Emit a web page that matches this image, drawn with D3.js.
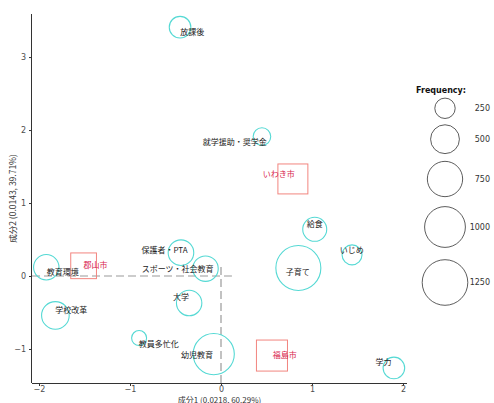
<!DOCTYPE html>
<html>
<head>
<meta charset="utf-8">
<script src="https://cdn.jsdelivr.net/npm/d3@7"></script>
<style>
  html, body { margin: 0; padding: 0; background: #fff; }
  svg { display: block; }
  text { font-family: "Noto Sans CJK JP", "Noto Sans", sans-serif; }
</style>
</head>
<body>
<svg id="chart" width="494" height="403"></svg>
<script>
// Correspondence analysis: topic words (circles) and cities (squares)
const words = ["放課後", "就学援助・奨学金", "教育環境", "保護者・PTA", "スポーツ・社会教育", "大学",
               "学校改革", "教員多忙化", "幼児教育", "給食", "子育て", "いじめ", "学力"];
const wordDim1 = [-0.45, 0.45, -1.92, -0.44, -0.17, -0.35, -1.82, -0.90, -0.08, 1.03, 0.85, 1.44, 1.90];
const wordDim2 = [3.41, 1.91, 0.12, 0.32, 0.10, -0.37, -0.54, -0.85, -1.07, 0.64, 0.11, 0.29, -1.26];
const wordFreq = [280, 186, 388, 394, 388, 388, 458, 135, 1020, 346, 1217, 240, 280];
// repelled label anchors (same dimensions)
const wordLabelDim1 = [-0.315, 0.15, -1.74, -0.62, -0.476, -0.44, -1.645, -0.685, -0.263, 1.03, 0.843, 1.436, 1.787];
const wordLabelDim2 = [3.34, 1.83, 0.05, 0.355, 0.10, -0.29, -0.465, -0.93, -1.08, 0.71, 0.046, 0.355, -1.18];

const cities = ["いわき市", "郡山市", "福島市"];
const cityDim1 = [0.79, -1.51, 0.56];
const cityDim2 = [1.33, 0.14, -1.09];
const cityFreq = [687, 506, 737];
const cityLabelDim1 = [0.635, -1.38, 0.70];
const cityLabelDim2 = [1.40, 0.146, -1.083];

const xTicks = [-2, -1, 0, 1, 2];
const yTicks = [-1, 0, 1, 2, 3];
const legendFreq = [250, 500, 750, 1000, 1250];
const xTitle = "成分1 (0.0218, 60.29%)";
const yTitle = "成分2 (0.0143, 39.71%)";
const legendTitle = "Frequency:";

const svg = d3.select("#chart");
const panel = { left: 32, right: 407, top: 14, bottom: 383 };

const x = d3.scaleLinear().domain([-2.077, 2.044]).range([panel.left, panel.right]);
const y = d3.scaleLinear().domain([-1.466, 3.59]).range([panel.bottom, panel.top]);
const r = d3.scaleSqrt().domain([0, 1250]).range([0, 22.8]);
// open squares share the circle's area
const side = f => 2 * r(f) * 0.8862;

const circleColor = "#55d9d4";
const squareColor = "#f2857f";
const cityTextColor = "#d81e4e";

// origin reference lines
const dash = "8,4";
svg.append("line")
  .attr("x1", x(x.domain()[0])).attr("x2", x(0.12))
  .attr("y1", y(0)).attr("y2", y(0))
  .attr("stroke", "#9a9a9a").attr("stroke-width", 1.2).attr("stroke-dasharray", dash);
svg.append("line")
  .attr("x1", x(0)).attr("x2", x(0))
  .attr("y1", y(y.domain()[0])).attr("y2", y(0.16))
  .attr("stroke", "#9a9a9a").attr("stroke-width", 1.2).attr("stroke-dasharray", dash);

// axes
const xAxis = svg.append("g")
  .attr("transform", `translate(0,${panel.bottom})`)
  .call(d3.axisBottom(x).tickValues(xTicks).tickSize(3).tickPadding(0).tickFormat(d3.format("d")));
const yAxis = svg.append("g")
  .attr("transform", `translate(${panel.left},0)`)
  .call(d3.axisLeft(y).tickValues(yTicks).tickSize(3).tickPadding(3).tickFormat(d3.format("d")));
[xAxis, yAxis].forEach(g => {
  g.select(".domain").attr("stroke", "#333").attr("stroke-width", 1);
  g.selectAll(".tick line").attr("stroke", "#333");
  g.selectAll(".tick text").attr("fill", "#4d4d4d").style("font-size", "8px")
    .style("font-family", "'DejaVu Sans', sans-serif");
});
xAxis.select(".domain").attr("d", `M${panel.left},0.5H${panel.right}`);
yAxis.select(".domain").attr("d", `M-0.5,${panel.top}V${panel.bottom}`);

// axis titles
svg.append("text")
  .attr("x", (panel.left + panel.right) / 2).attr("y", 402.5)
  .attr("text-anchor", "middle").attr("fill", "#333").style("font-size", "8px")
  .text(xTitle);
svg.append("text")
  .attr("transform", `translate(16,${(panel.top + panel.bottom) / 2}) rotate(-90)`)
  .attr("text-anchor", "middle").attr("fill", "#333").style("font-size", "8.5px")
  .text(yTitle);

// word circles
const wordData = words.map((w, i) => ({
  w, d1: wordDim1[i], d2: wordDim2[i], f: wordFreq[i], l1: wordLabelDim1[i], l2: wordLabelDim2[i]
}));
svg.append("g").selectAll("circle").data(wordData).join("circle")
  .attr("cx", d => x(d.d1)).attr("cy", d => y(d.d2)).attr("r", d => r(d.f))
  .attr("fill", "none").attr("stroke", circleColor).attr("stroke-width", 1.1);

// city squares
const cityData = cities.map((c, i) => ({
  c, d1: cityDim1[i], d2: cityDim2[i], f: cityFreq[i], l1: cityLabelDim1[i], l2: cityLabelDim2[i]
}));
svg.append("g").selectAll("rect").data(cityData).join("rect")
  .attr("x", d => x(d.d1) - side(d.f) / 2).attr("y", d => y(d.d2) - side(d.f) / 2)
  .attr("width", d => side(d.f)).attr("height", d => side(d.f))
  .attr("fill", "none").attr("stroke", squareColor).attr("stroke-width", 1);

// labels
svg.append("g").selectAll("text").data(wordData).join("text")
  .attr("x", d => x(d.l1)).attr("y", d => y(d.l2))
  .attr("dy", "0.35em").attr("text-anchor", "middle")
  .attr("fill", "#222").style("font-size", "8px")
  .text(d => d.w);
svg.append("g").selectAll("text").data(cityData).join("text")
  .attr("x", d => x(d.l1)).attr("y", d => y(d.l2))
  .attr("dy", "0.35em").attr("text-anchor", "middle")
  .attr("fill", cityTextColor).style("font-size", "8px")
  .text(d => d.c);

// size legend
const legendX = 445;
const legendY = [108.3, 139.2, 179, 227, 282.5];
svg.append("text")
  .attr("x", 416).attr("y", 93)
  .attr("fill", "#111").style("font-size", "8px").style("font-weight", "bold")
  .style("font-family", "'DejaVu Sans', sans-serif")
  .text(legendTitle);
const leg = svg.append("g").selectAll("g").data(legendFreq).join("g")
  .attr("transform", (d, i) => `translate(0,${legendY[i]})`);
leg.append("circle")
  .attr("cx", legendX).attr("r", d => r(d))
  .attr("fill", "none").attr("stroke", "#333").attr("stroke-width", 0.8);
leg.append("text")
  .attr("x", 490).attr("dy", "0.35em").attr("text-anchor", "end")
  .attr("fill", "#333").style("font-size", "8px")
  .style("font-family", "'DejaVu Sans', sans-serif")
  .text(d => d);
</script>
</body>
</html>
